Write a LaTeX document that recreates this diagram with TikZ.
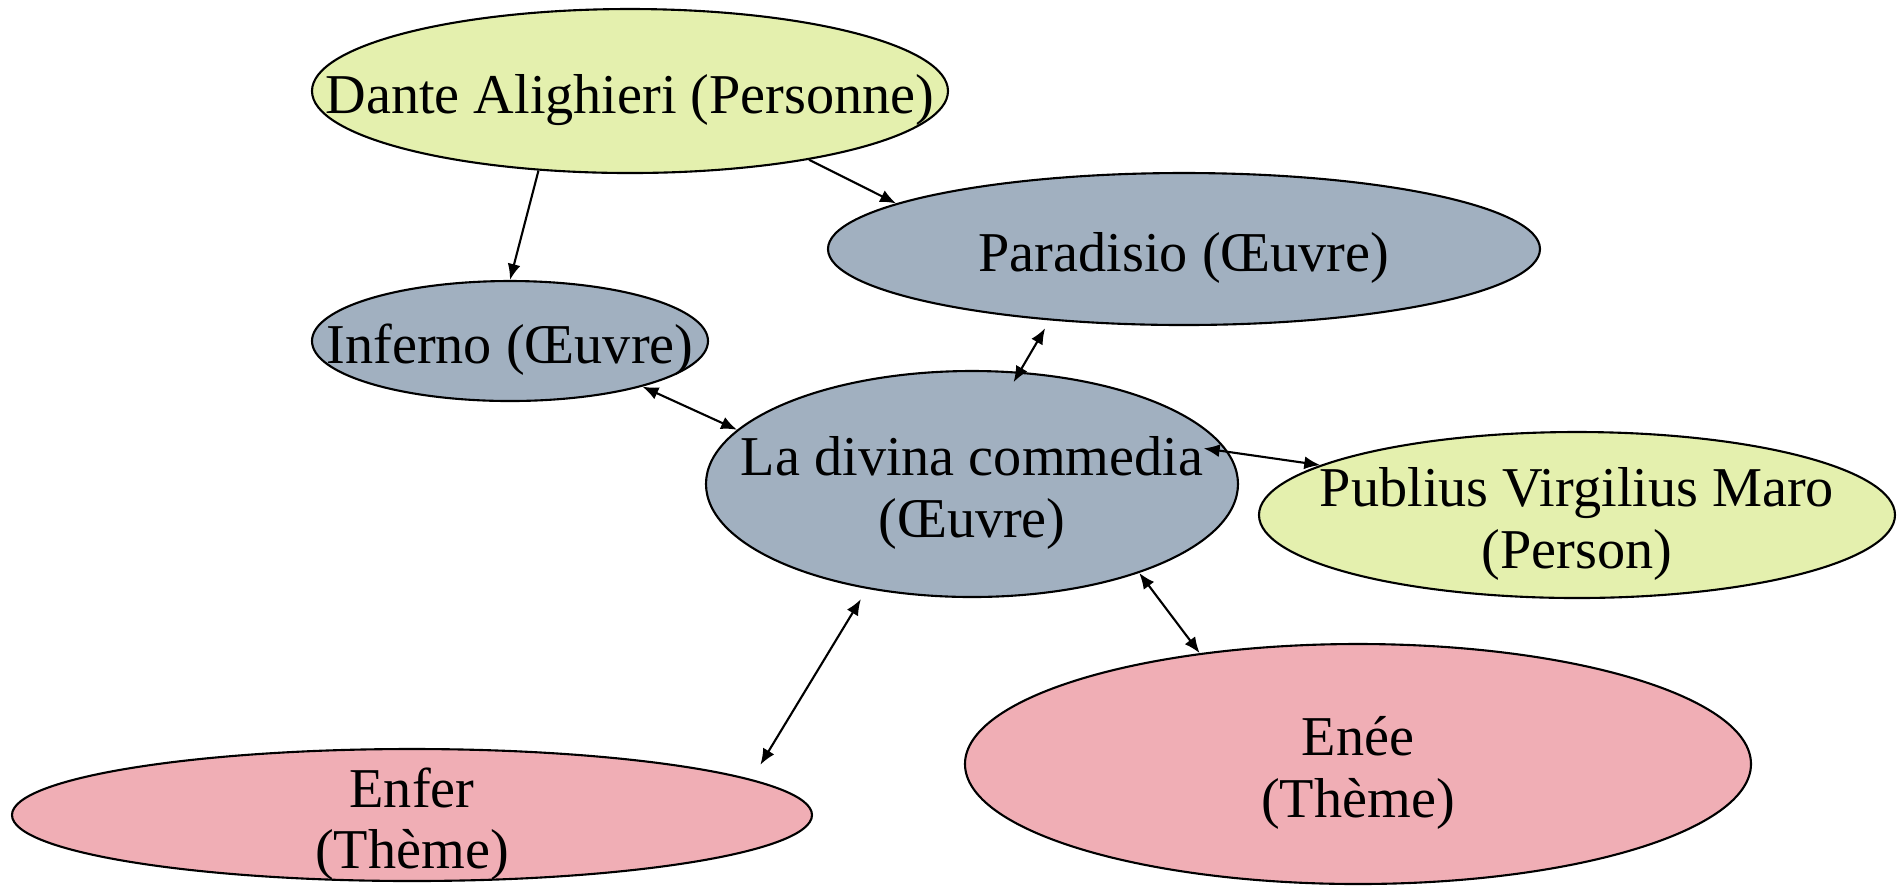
\documentclass[tikz,border=0pt]{standalone}
\usepackage{fontspec}
\setmainfont{Liberation Serif}
\usetikzlibrary{shapes.geometric,arrows.meta}
\definecolor{personyellow}{RGB}{228,240,174}
\definecolor{oeuvreblue}{RGB}{161,176,192}
\definecolor{themepink}{RGB}{240,174,181}

\tikzset{
  entity/.style={ellipse, draw=black, line width=0.6pt, inner sep=0pt},
  person/.style={entity, fill=personyellow},
  oeuvre/.style={entity, fill=oeuvreblue},
  theme/.style={entity, fill=themepink},
  link/.style={line width=0.6pt, -{Latex[length=1.6mm,width=1.3mm]}},
  dlink/.style={line width=0.6pt, {Latex[length=1.6mm,width=1.3mm]}-{Latex[length=1.6mm,width=1.3mm]}}
}

\begin{document}
\begin{tikzpicture}[font=\fontsize{16}{17.5}\selectfont, every label/.style={align=center, yshift=-0.9mm}]
  \useasboundingbox (0,0) rectangle (19.01,-8.85);

  % Draw persons
  \node[person, minimum width=6.36cm, minimum height=1.64cm, label={center:Dante Alighieri (Personne)}] (dante) at (6.30,-0.91) {};
  \node[person, minimum width=6.36cm, minimum height=1.66cm, label={center:Publius Virgilius Maro\\(Person)}] (publius) at (15.77,-5.15) {};

  % Draw works
  \node[oeuvre, minimum width=7.12cm, minimum height=1.52cm, label={center:Paradisio (Œuvre)}] (paradisio) at (11.84,-2.49) {};
  \node[oeuvre, minimum width=3.96cm, minimum height=1.20cm, label={center:Inferno (Œuvre)}] (inferno) at (5.10,-3.41) {};
  \node[oeuvre, minimum width=5.32cm, minimum height=2.26cm, label={center:La divina commedia\\(Œuvre)}] (commedia) at (9.72,-4.84) {};

  % Draw themes
  \node[theme, minimum width=8.00cm, minimum height=1.32cm, label={center:Enfer\\(Thème)}] (enfer) at (4.12,-8.15) {};
  \node[theme, minimum width=7.86cm, minimum height=2.40cm, label={center:Enée\\(Thème)}] (enee) at (13.58,-7.64) {};

  % Links
  \draw[link] (dante.221) -- (inferno.90);
  \draw[link] (dante.339) -- (paradisio.171);
  \draw[dlink] (inferno.341) -- (commedia.167);
  \draw[dlink, shorten <=0.9mm, shorten >=-1.2mm] (paradisio.208) -- (commedia.67);
  \draw[dlink] ([xshift=-2.2mm]commedia.8) -- (publius.169);
  \draw[dlink, shorten <=1.2mm, shorten >=1.7mm] (commedia.225) -- (enfer.6);
  \draw[dlink] (commedia.332) -- (enee.145);
\end{tikzpicture}
\end{document}
